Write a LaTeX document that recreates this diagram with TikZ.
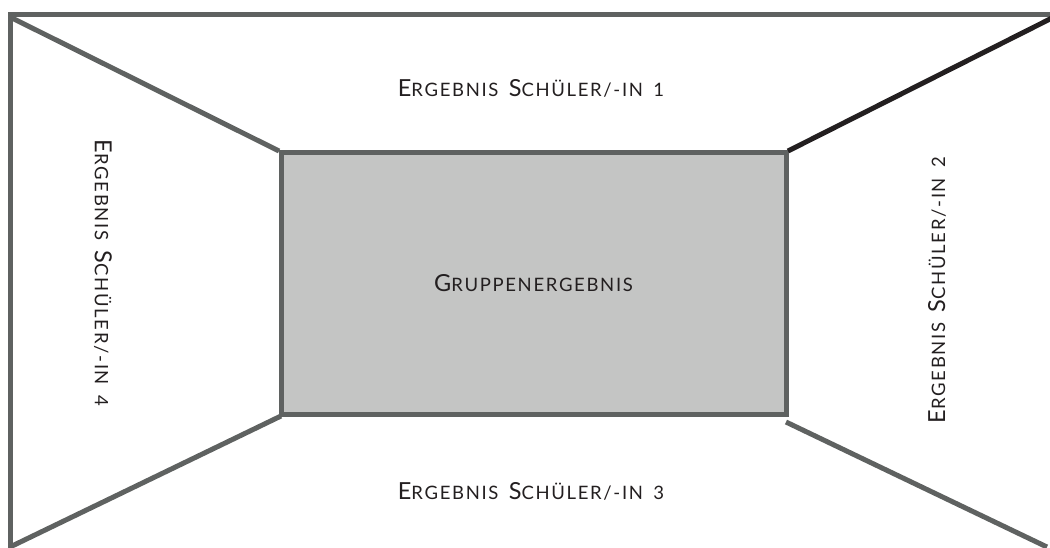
\documentclass[tikz,border=0pt]{standalone}
\usepackage{fontspec}
\setmainfont{Lato}
\definecolor{frame}{HTML}{5F6261}
\definecolor{boxfill}{HTML}{C4C5C4}
\definecolor{ink}{HTML}{231F20}
% faked small caps: large initial, smaller capitals for the rest
\newcommand{\initcap}[1]{{\fontsize{23.5}{26}\selectfont\addfontfeature{LetterSpace=9}#1}}
\newcommand{\restcap}[1]{{\fontsize{18.5}{22}\selectfont\addfontfeature{LetterSpace=9}#1}}
\newcommand{\resultlabel}[1]{\initcap{E}\restcap{RGEBNIS\hspace{4pt} }\initcap{S}\restcap{CHÜLER/-IN\hspace{4pt} #1}}
\begin{document}
\begin{tikzpicture}[x=1pt,y=-1pt,
  edge/.style={draw=frame,line width=5pt},
  darkedge/.style={draw=ink,line width=5pt},
  label/.style={text=ink,inner sep=0pt}]
\useasboundingbox (0,0) rectangle (1050,547);
% outer frame (top and left)
\coordinate (tl) at (10,14);
\coordinate (tr) at (1052,14);
\coordinate (bl) at (10,549);
\draw[edge,line cap=rect] (tr) -- (tl) -- (bl);
% central box
\node[draw=frame,fill=boxfill,line width=5pt,minimum width=505pt,minimum height=262pt,inner sep=0pt] (grp) at (533.5,283) {};
\node[label] (grptext) at (grp.center) {\initcap{G}\restcap{RUPPENERGEBNIS}};
% diagonals from the box corners
\coordinate (d1) at (10,17);
\coordinate (d2) at (1052,18);
\coordinate (d3) at (1047,547);
\coordinate (d4) at (10,547);
\draw[edge] (d1) -- (279,151);
\draw[darkedge] (788,151) -- (d2);
\draw[edge] (786,422) -- (d3);
\draw[edge] (d4) -- (281,416);
% result labels
\node[label] (r1) at (531,88) {\resultlabel{1}};
\node[label] (r3) at (531,491) {\resultlabel{3}};
\node[label,rotate=-90] (r4) at (103,273) {\resultlabel{4}};
\node[label,rotate=90] (r2) at (937,290) {\resultlabel{2}};
\end{tikzpicture}
\end{document}
